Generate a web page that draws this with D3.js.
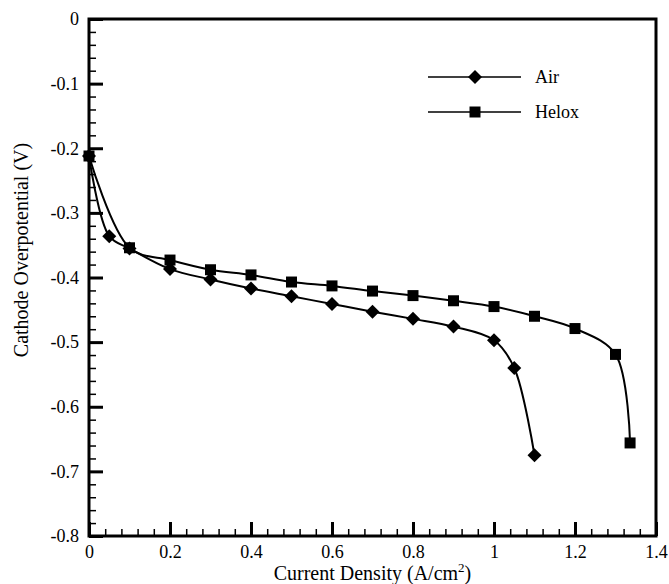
<!DOCTYPE html>
<html lang="en">
<head>
<meta charset="UTF-8" />
<title>Cathode overpotential</title>
<script src="https://d3js.org/d3.v7.min.js"></script>
<style>
  body { margin: 0; background: #fff; }
  svg { display: block; }
  svg text { font-family: 'Liberation Serif', 'DejaVu Serif', serif !important; fill: #000; }
  .tick text { font-size: 18px; }
  .label { font-size: 20px; }
  .legend { font-size: 18px; }
</style>
</head>
<body>
<svg id="chart" width="669" height="584"></svg>
<script>
// current density (A/cm2) and cathode overpotential (V)
const airX = [0, 0.05, 0.1, 0.2, 0.3, 0.4, 0.5, 0.6, 0.7, 0.8, 0.9, 1.0, 1.05, 1.1];
const airY = [-0.212, -0.336, -0.355, -0.387, -0.403, -0.417, -0.429, -0.441, -0.453, -0.464, -0.476, -0.497, -0.540, -0.675];
const heloxX = [0, 0.1, 0.2, 0.3, 0.4, 0.5, 0.6, 0.7, 0.8, 0.9, 1.0, 1.1, 1.2, 1.3, 1.336];
const heloxY = [-0.212, -0.354, -0.373, -0.388, -0.396, -0.407, -0.413, -0.421, -0.428, -0.436, -0.445, -0.460, -0.479, -0.519, -0.656];
const xTicks = [0, 0.2, 0.4, 0.6, 0.8, 1.0, 1.2, 1.4];
const yTicks = [0, -0.1, -0.2, -0.3, -0.4, -0.5, -0.6, -0.7, -0.8];

const svg = d3.select('#chart');
const margin = { left: 89, top: 19, right: 13, bottom: 48 };
const width = 669 - margin.left - margin.right;
const height = 584 - margin.top - margin.bottom;
const serif = "'Liberation Serif', 'DejaVu Serif', serif";

const chart = svg.append('g')
  .attr('transform', `translate(${margin.left}, ${margin.top})`);

const x = d3.scaleLinear().domain([0, 1.4]).range([0, width]);
const y = d3.scaleLinear().domain([-0.8, 0]).range([height, 0]);

const fmt = (d) => d === 0 ? '0' : String(+d.toFixed(1));

// minor ticks
const xMinor = d3.range(0, 1.4001, 0.04).map((d) => +d.toFixed(2)).filter((d) => !xTicks.some((t) => Math.abs(t - d) < 1e-6));
const yMinor = d3.range(0, -0.8001, -0.02).map((d) => +d.toFixed(2)).filter((d) => !yTicks.some((t) => Math.abs(t - d) < 1e-6));

chart.append('g')
  .attr('transform', `translate(0, ${height})`)
  .call(d3.axisBottom(x).tickValues(xMinor).tickSize(-7).tickFormat(''))
  .call((g) => g.select('.domain').remove())
  .selectAll('line').attr('stroke-width', 1.5);

chart.append('g')
  .call(d3.axisLeft(y).tickValues(yMinor).tickSize(-7).tickFormat(''))
  .call((g) => g.select('.domain').remove())
  .selectAll('line').attr('stroke-width', 1.5);

// major ticks
chart.append('g')
  .attr('transform', `translate(0, ${height})`)
  .call(d3.axisBottom(x).tickValues(xTicks).tickSize(-14).tickPadding(6).tickFormat(fmt))
  .attr('font-family', serif)
  .attr('font-size', 18)
  .call((g) => g.select('.domain').remove())
  .call((g) => g.selectAll('line').attr('stroke-width', 3))
  .call((g) => g.selectAll('text').attr('dy', '0.9em'));

chart.append('g')
  .call(d3.axisLeft(y).tickValues(yTicks).tickSize(-14).tickPadding(10).tickFormat(fmt))
  .attr('font-family', serif)
  .attr('font-size', 18)
  .call((g) => g.select('.domain').remove())
  .call((g) => g.selectAll('line').attr('stroke-width', 3));

// frame
chart.append('rect')
  .attr('width', width)
  .attr('height', height)
  .attr('fill', 'none')
  .attr('stroke', '#000')
  .attr('stroke-width', 3);

const line = d3.line()
  .x((d) => x(d[0]))
  .y((d) => y(d[1]))
  .curve(d3.curveCatmullRom.alpha(0.5));

const air = airX.map((v, i) => [v, airY[i]]);
const helox = heloxX.map((v, i) => [v, heloxY[i]]);

const diamond = d3.symbol().type(d3.symbolSquare).size(98);
const square = d3.symbol().type(d3.symbolSquare).size(121);

[helox, air].forEach((data) => {
  chart.append('path')
    .datum(data)
    .attr('fill', 'none')
    .attr('stroke', '#000')
    .attr('stroke-width', 2)
    .attr('d', line);
});

chart.selectAll('.sq')
  .data(helox)
  .enter()
  .append('path')
  .attr('class', 'sq')
  .attr('d', square)
  .attr('transform', (d) => `translate(${x(d[0])}, ${y(d[1])})`);

chart.selectAll('.dm')
  .data(air)
  .enter()
  .append('path')
  .attr('class', 'dm')
  .attr('d', diamond)
  .attr('transform', (d) => `translate(${x(d[0])}, ${y(d[1])}) rotate(45)`);

// legend
const legend = svg.append('g').attr('font-family', serif);
const legendRows = [
  { name: 'Air', y: 77, sym: diamond, rot: 45 },
  { name: 'Helox', y: 112, sym: square, rot: 0 }
];
legendRows.forEach((r) => {
  legend.append('line')
    .attr('x1', 428).attr('x2', 521)
    .attr('y1', r.y).attr('y2', r.y)
    .attr('stroke', '#000')
    .attr('stroke-width', 1.5);
  legend.append('path')
    .attr('d', r.sym)
    .attr('transform', `translate(475, ${r.y}) rotate(${r.rot})`);
  legend.append('text')
    .attr('class', 'legend')
    .attr('x', 535)
    .attr('y', r.y + 6)
    .text(r.name);
});

// axis titles
svg.append('text')
  .attr('class', 'label')
  .attr('x', margin.left + width / 2)
  .attr('y', 580)
  .attr('text-anchor', 'middle')
  .html('Current Density (A/cm<tspan dy="-8" font-size="13">2</tspan><tspan dy="8">)</tspan>');

svg.append('text')
  .attr('class', 'label')
  .attr('transform', 'rotate(-90)')
  .attr('x', -250)
  .attr('y', 28)
  .attr('text-anchor', 'middle')
  .text('Cathode Overpotential (V)');
</script>
</body>
</html>
